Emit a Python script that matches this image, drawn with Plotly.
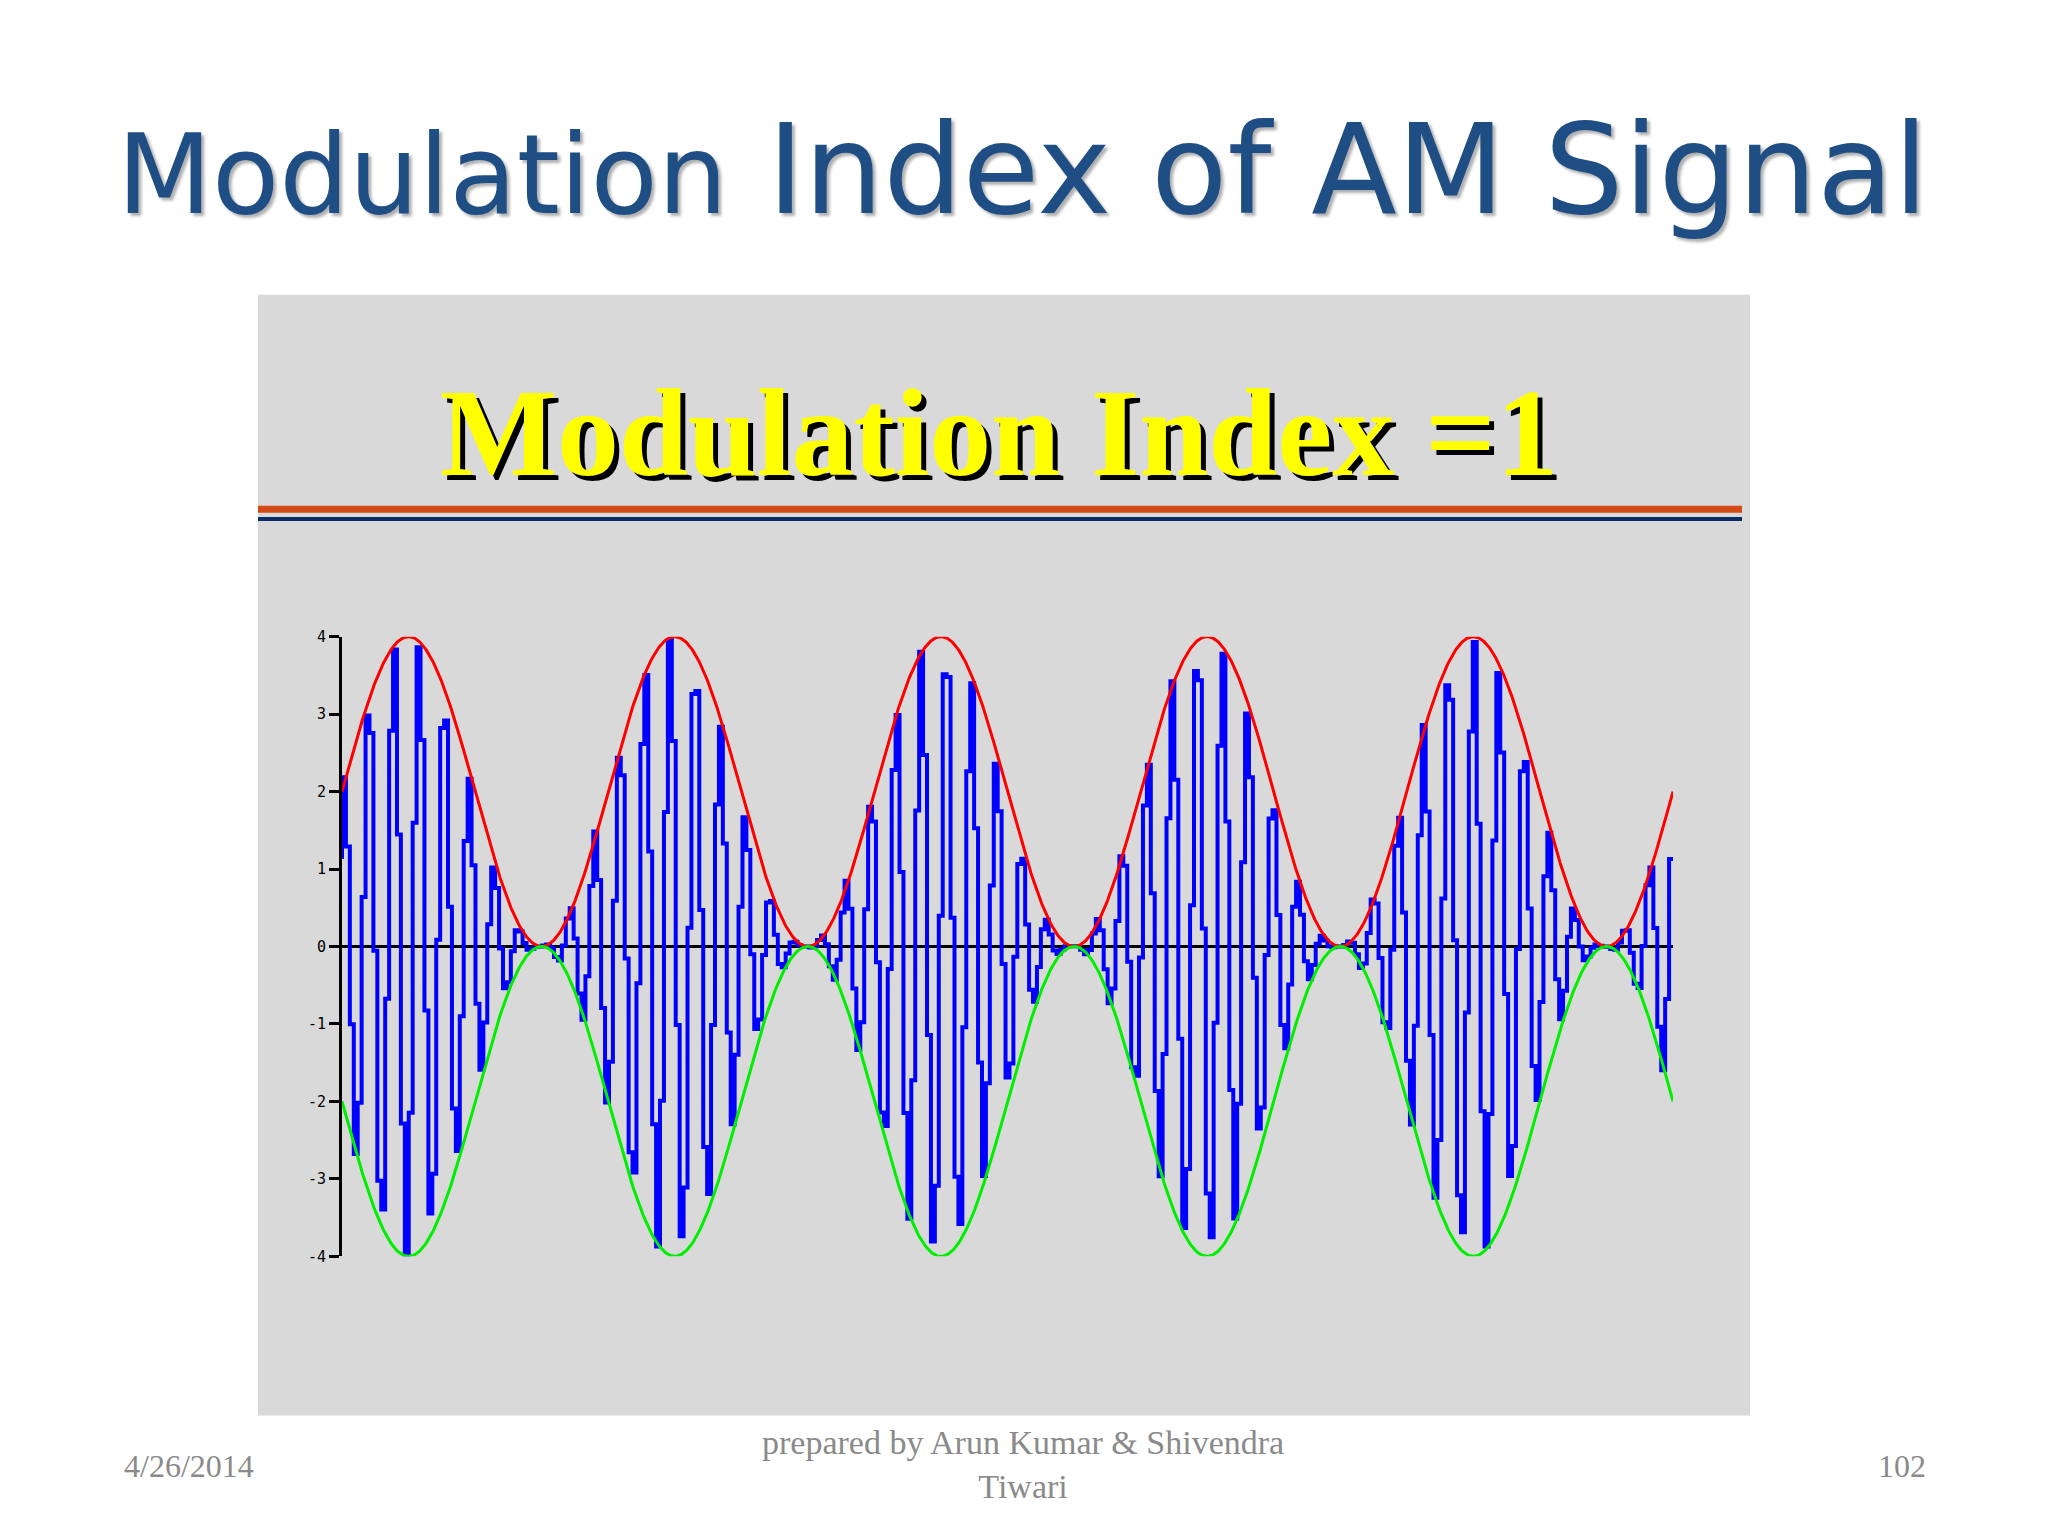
import numpy as np
import plotly.graph_objects as go

# Signal parameters
n_mod_periods = 5.0        # modulation cycles shown
carrier_ratio = 10.6       # carrier cycles per modulation cycle
amp = 2.0                  # carrier amplitude (m = 1)
samples = 340              # coarse sampling (step look)
y_ticks = [4, 3, 2, 1, 0, -1, -2, -3, -4]

t = np.linspace(0, n_mod_periods, samples)
env = amp * (1 + np.sin(2 * np.pi * t))
sig = env * np.sin(2 * np.pi * carrier_ratio * t + 0.6)
tf = np.linspace(0, n_mod_periods, 1500)
env_f = amp * (1 + np.sin(2 * np.pi * tf))

W, H = 2048, 1536
fig = go.Figure()
fig.add_trace(go.Scatter(x=t, y=sig, mode="lines", line=dict(color="#0000ff", width=4, shape="vh"), hoverinfo="skip"))
fig.add_trace(go.Scatter(x=tf, y=env_f, mode="lines", line=dict(color="#ff0000", width=3), hoverinfo="skip"))
fig.add_trace(go.Scatter(x=tf, y=-env_f, mode="lines", line=dict(color="#00ee00", width=3), hoverinfo="skip"))

x0, x1 = 334 / W, 1665 / W
fig.update_layout(
    width=W, height=H, margin=dict(l=0, r=0, t=0, b=0),
    paper_bgcolor="white", plot_bgcolor="rgba(0,0,0,0)", showlegend=False,
    xaxis=dict(domain=[x0, x1], range=[0, n_mod_periods], visible=False),
    yaxis=dict(domain=[(H - 1254) / H, (H - 627) / H], range=[-4, 4],
               tickvals=y_ticks, ticktext=[str(v) for v in y_ticks],
               ticks="outside", ticklen=10, tickwidth=3, tickcolor="black",
               showline=True, linecolor="black", linewidth=3, showgrid=False,
               zeroline=True, zerolinecolor="black", zerolinewidth=3,
               tickfont=dict(family="DejaVu Sans Mono", size=15, color="black")),
    shapes=[
        dict(type="rect", xref="paper", yref="paper", x0=250 / W, x1=1742 / W,
             y0=(H - 1415) / H, y1=(H - 281) / H, fillcolor="#d9d9d9", line_width=0, layer="below"),
        dict(type="line", xref="paper", yref="paper", x0=250 / W, x1=1734 / W,
             y0=(H - 498) / H, y1=(H - 498) / H, line=dict(color="#d24a14", width=7)),
        dict(type="line", xref="paper", yref="paper", x0=250 / W, x1=1734 / W,
             y0=(H - 508) / H, y1=(H - 508) / H, line=dict(color="#0a2a6a", width=4)),
    ],
    annotations=[
        dict(xref="paper", yref="paper", x=1014 / W, y=(H - 79) / H, showarrow=False,
             text="<span style='font-size:110px'>Modulation</span> Index of AM Signal",
             font=dict(family="DejaVu Sans", size=125, color="#1f4e85", shadow="3px 3px 3px #b0b0b0")),
        dict(xref="paper", yref="paper", x=991 / W, y=(H - 350) / H, showarrow=False,
             text="<b>Modulation Index =1</b>",
             font=dict(family="Liberation Serif", size=124, color="#ffff00", shadow="5px 5px 0px #000")),
        dict(xref="paper", yref="paper", x=114 / W, y=(H - 1486) / H, showarrow=False, xanchor="left",
             text="4/26/2014", font=dict(family="Liberation Serif", size=32, color="#8a8a8a")),
        dict(xref="paper", yref="paper", x=1015 / W, y=(H - 1508) / H, showarrow=False,
             text="prepared by Arun Kumar &amp; Shivendra<br>Tiwari",
             font=dict(family="Liberation Serif", size=34, color="#8a8a8a")),
        dict(xref="paper", yref="paper", x=1920 / W, y=(H - 1486) / H, showarrow=False,
             text="102", font=dict(family="Liberation Serif", size=32, color="#8a8a8a")),
    ],
)
fig.write_html("out.html")
